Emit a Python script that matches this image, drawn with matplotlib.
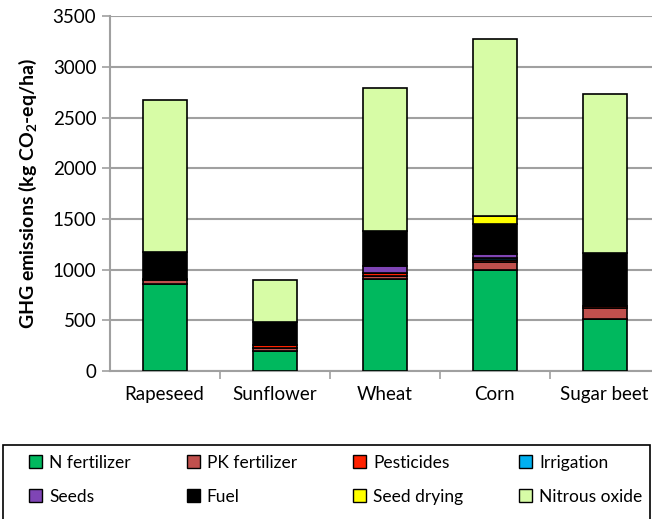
"""
GHG emissions per hectare by crop, stacked by emission source.
"""

import matplotlib.pyplot as plt
from matplotlib.patches import Rectangle
import numpy as np

# Data (kg CO2-eq/ha)
crops = ["Rapeseed", "Sunflower", "Wheat", "Corn", "Sugar beet"]
n_fertilizer = [860, 200, 910, 1000, 510]
pk_fertilizer = [40, 25, 30, 75, 110]
pesticides = [10, 30, 25, 25, 25]
irrigation = [0, 0, 0, 15, 0]
seeds = [0, 0, 75, 40, 0]
fuel = [260, 230, 340, 300, 520]
seed_drying = [0, 0, 0, 75, 0]
nitrous_oxide = [1500, 415, 1410, 1740, 1565]

sources = [
    ("N fertilizer", n_fertilizer, "#00B85E"),
    ("PK fertilizer", pk_fertilizer, "#C0504D"),
    ("Pesticides", pesticides, "#FF2200"),
    ("Irrigation", irrigation, "#00B0F0"),
    ("Seeds", seeds, "#7F45B5"),
    ("Fuel", fuel, "#000000"),
    ("Seed drying", seed_drying, "#FFFF00"),
    ("Nitrous oxide", nitrous_oxide, "#D7FCA6"),
]

plt.rcParams["font.family"] = ["Lato", "DejaVu Sans"]

fig = plt.figure(figsize=(6.52, 5.19), dpi=100)
ax = fig.add_axes([0.168, 0.285, 0.8436, 0.684])

x = np.arange(len(crops))
bottom = np.zeros(len(crops))
handles = []
for label, values, color in sources:
    vals = np.array(values, dtype=float)
    bars = ax.bar(x, vals, width=0.4, bottom=bottom, color=color,
                  edgecolor="black", linewidth=1.2, label=label, zorder=3)
    handles.append(bars)
    bottom += vals

ax.set_xlim(-0.5, len(crops) - 0.5)
ax.set_ylim(0, 3500)
ax.set_yticks(range(0, 3501, 500))
ax.set_xticks(x)
ax.set_xticklabels(crops, fontsize=13.5)
ax.set_xticks(np.arange(0.5, len(crops) - 0.5), minor=True)
ax.tick_params(axis="x", which="major", length=0, pad=11)
ax.tick_params(axis="x", which="minor", length=6, width=1.2, color="#A0A0A0")
ax.tick_params(axis="y", labelsize=13.5, length=6, width=1.2, color="#A0A0A0")
ax.grid(True, axis="y", color="#A0A0A0", linewidth=1.5, zorder=0)

for side in ["top", "right"]:
    ax.spines[side].set_visible(False)
for side in ["left", "bottom"]:
    ax.spines[side].set_color("#A0A0A0")
    ax.spines[side].set_linewidth(1.5)

ax.set_ylabel("GHG emissions (kg CO$_\\mathregular{2}$-eq/ha)",
              fontsize=14, fontweight="bold", labelpad=10)

# legend box frame, drawn separately so the entries can be placed freely
legend_top = 1 - 445 / 519
fig.patches.append(Rectangle((0.004, -0.05), 0.993, legend_top + 0.05,
                             transform=fig.transFigure, fill=False,
                             edgecolor="black", linewidth=1.2))

# legend fills column by column, so interleave to get row order
order = [0, 4, 1, 5, 2, 6, 3, 7]
leg = fig.legend(handles=[handles[i] for i in order], loc="upper left",
                 ncol=4, mode="expand",
                 bbox_to_anchor=(0.03, 0.0, 0.97, legend_top),
                 fontsize=12.5, handlelength=0.75, handleheight=0.75,
                 handletextpad=0.4, borderaxespad=0.0, borderpad=0.55,
                 labelspacing=1.05, frameon=False)
for h in leg.legend_handles:
    h.set_linewidth(1.0)

plt.savefig("out.png", dpi=100)
